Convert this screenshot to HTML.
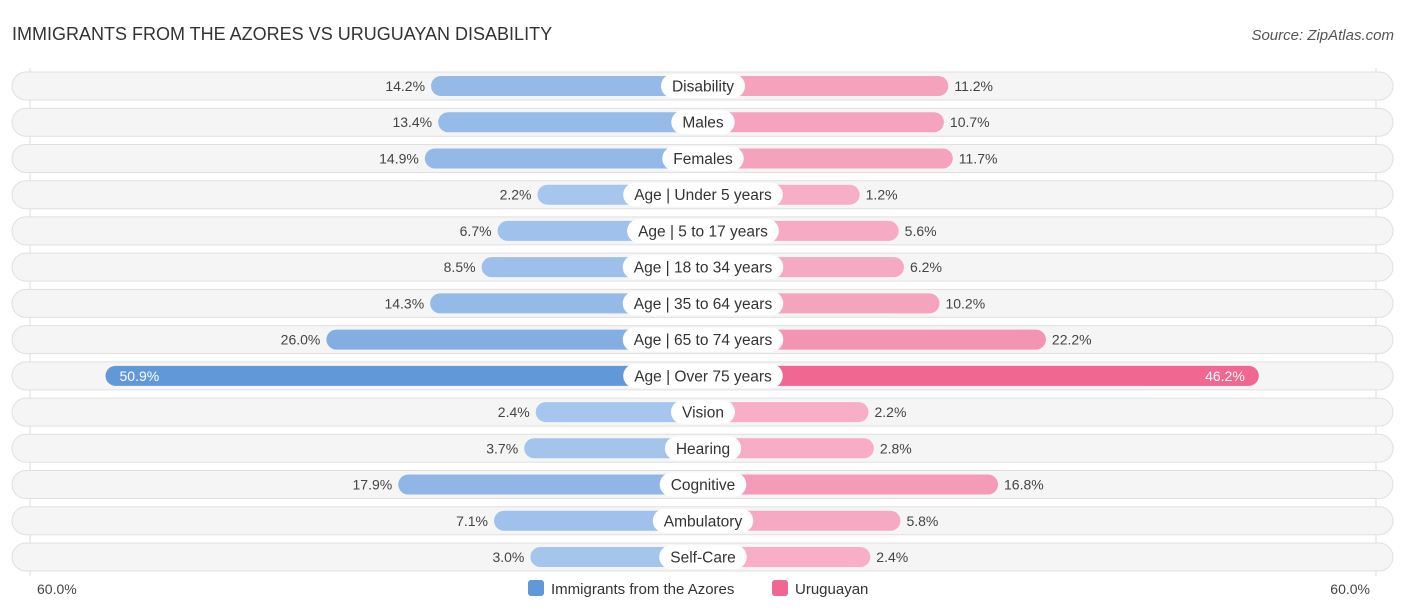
<!DOCTYPE html>
<html><head><meta charset="utf-8">
<style>
body{margin:0;background:#fff;font-family:"Liberation Sans",Arial,sans-serif;}
#wrap{position:relative;width:1406px;height:612px;overflow:hidden;}
</style></head>
<body>
<div id="wrap">
<svg id="chart" width="1406" height="612" style="font-family:'Liberation Sans',Arial,sans-serif">
<text x="12" y="40" font-size="18" fill="#333">IMMIGRANTS FROM THE AZORES VS URUGUAYAN DISABILITY</text>
<text x="1394" y="40" font-size="15" fill="#555" font-style="italic" text-anchor="end">Source: ZipAtlas.com</text>
<line x1="30" y1="68" x2="30" y2="576" stroke="#ddd"/>
<line x1="1376" y1="68" x2="1376" y2="576" stroke="#ddd"/>
<g id="rows"></g>
<text x="37" y="594" font-size="14" fill="#444">60.0%</text>
<text x="1370" y="594" font-size="14" fill="#444" text-anchor="end">60.0%</text>
<g>
<rect x="528" y="580" width="16" height="16" rx="3" fill="#6199d8"/>
<text x="551" y="594" font-size="15" fill="#333">Immigrants from the Azores</text>
<rect x="772" y="580" width="16" height="16" rx="3" fill="#f06792"/>
<text x="795" y="594" font-size="15" fill="#333">Uruguayan</text>
</g>
</svg>
</div>
<script>
const categories=["Disability","Males","Females","Age | Under 5 years","Age | 5 to 17 years","Age | 18 to 34 years","Age | 35 to 64 years","Age | 65 to 74 years","Age | Over 75 years","Vision","Hearing","Cognitive","Ambulatory","Self-Care"];
const azores=[14.2,13.4,14.9,2.2,6.7,8.5,14.3,26.0,50.9,2.4,3.7,17.9,7.1,3.0];
const uruguayan=[11.2,10.7,11.7,1.2,5.6,6.2,10.2,22.2,46.2,2.2,2.8,16.8,5.8,2.4];
const CX=703, BASE=146, K=8.87, Y0=86, DY=36.23;
function xw(v){return BASE+K*v;}
function yc(i){return Y0+i*DY;}
function mix(a,b,t){const p=s=>[1,3,5].map(j=>parseInt(s.substr(j,2),16));const A=p(a),B=p(b);return 'rgb('+A.map((c,i)=>Math.round(c+(B[i]-c)*t)).join(',')+')';}
const NS="http://www.w3.org/2000/svg";
const g=document.getElementById('rows');
function mk(tag,attrs,parent){const e=document.createElementNS(NS,tag);for(const k in attrs)e.setAttribute(k,attrs[k]);(parent||g).appendChild(e);return e;}
categories.forEach((c,i)=>{
  const y=yc(i);
  const row=mk('g',{});
  
  
  const bg=mk('rect',{x:12,y:y-14,width:1381,height:28,rx:14,fill:'#f5f5f5',stroke:'#e0e0e0'},row);
  
  
  const a=azores[i],u=uruguayan[i];
  const strongA=a>40, strongU=u>40;
  const wa=xw(a), wu=xw(u);
  const ba=mk('rect',{x:CX-wa,y:y-10,width:wa,height:20,rx:10,fill:strongA?'#6199d8':mix('#a9c8ee','#7eaae0',Math.min(a/30,1))},row);
  
  
  const bu=mk('rect',{x:CX,y:y-10,width:wu,height:20,rx:10,fill:strongU?'#f06792':mix('#f7b1c8','#f28aab',Math.min(u/30,1))},row);
  
  
  const ta=mk('text',{y:y+5,'font-size':14},row);
  ta.textContent=a.toFixed(1)+'%';
  if(strongA){ta.setAttribute('x',CX-wa+14);ta.setAttribute('fill','#fff');}
  else{ta.setAttribute('x',CX-wa-6);ta.setAttribute('text-anchor','end');ta.setAttribute('fill','#444');}
  
  
  const tu=mk('text',{y:y+5,'font-size':14},row);
  tu.textContent=u.toFixed(1)+'%';
  if(strongU){tu.setAttribute('x',CX+wu-14);tu.setAttribute('text-anchor','end');tu.setAttribute('fill','#fff');}
  else{tu.setAttribute('x',CX+wu+6);tu.setAttribute('fill','#444');}
  
  
  const lt=mk('text',{x:CX,y:y+5.5,'font-size':15.5,'text-anchor':'middle',fill:'#333'},row);
  lt.textContent=c;
  const w=lt.getComputedTextLength()+22;
  const pill=mk('rect',{x:CX-w/2,y:y-12,width:w,height:24,rx:12,fill:'#fff'},row);
  row.insertBefore(pill,lt);
  
  
  
  
});
</script>
</body></html>
